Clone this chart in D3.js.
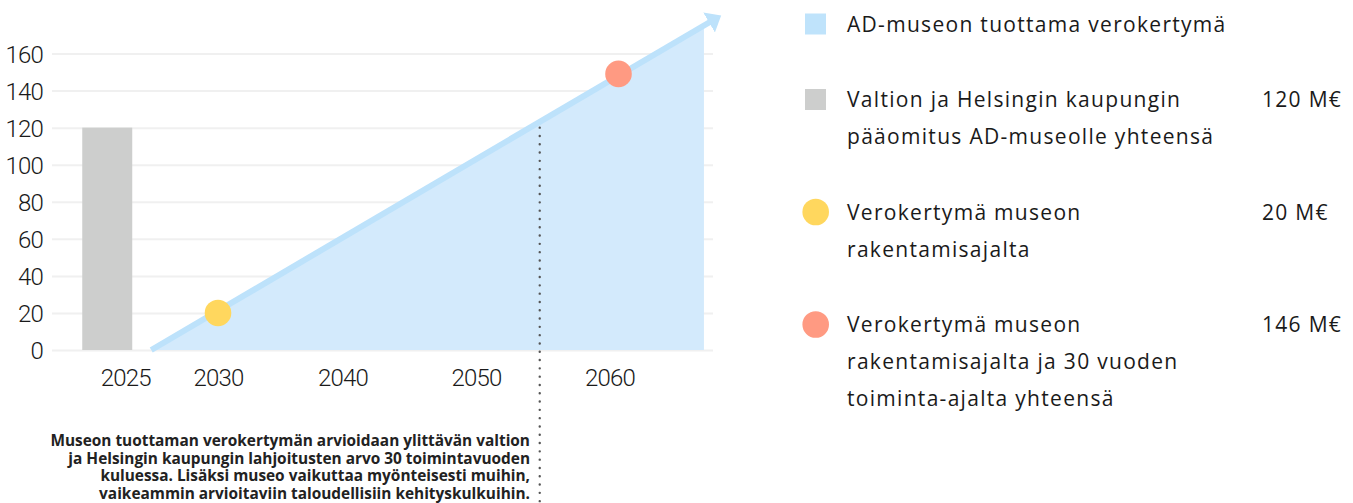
<!DOCTYPE html>
<html>
<head>
<meta charset="utf-8">
<script src="https://cdn.jsdelivr.net/npm/d3@7"></script>
<style>
  body { margin: 0; background: #fff; }
  svg { display: block; }
  .tick-label { font-family: "Roboto", sans-serif; font-weight: 300; font-size: 24px; fill: #1a1a1a; letter-spacing: -0.8px; }
  .legend text { font-family: "Open Sans", sans-serif; font-size: 21px; fill: #1a1a1a; letter-spacing: 1.3px; }
  .note { font-family: "Open Sans", sans-serif; font-size: 15.4px; font-weight: 700; fill: #222; }
</style>
</head>
<body>
<div id="chart"></div>
<script>

// axis ticks
var yTicks = [0, 20, 40, 60, 80, 100, 120, 140, 160];
var xTicks = [2025, 2030, 2040, 2050, 2060];

// state + city capital, one bar
var barYear = 2025;
var barValue = 120;

// tax accumulation (area + arrow line)
var areaYears = [2025, 2066.4];
var areaValues = [0, 175];
var lineYears = [2025, 2066.85];
var lineValues = [0, 177];

// milestones
var dotYears = [2030, 2060];
var dotValues = [20, 149];
var dotColors = ["#ffd75e", "#ff9a82"];

// where accumulation passes the capital
var crossYear = 2054.1;
var crossValue = 120;

var noteLines = [
	"Museon tuottaman verokertymän arvioidaan ylittävän valtion",
	"ja Helsingin kaupungin lahjoitusten arvo 30 toimintavuoden",
	"kuluessa. Lisäksi museo vaikuttaa myönteisesti muihin,",
	"vaikeammin arvioitaviin taloudellisiin kehityskulkuihin."
];

var legendLabels = [
	["AD-museon tuottama verokertymä"],
	["Valtion ja Helsingin kaupungin", "pääomitus AD-museolle yhteensä"],
	["Verokertymä museon", "rakentamisajalta"],
	["Verokertymä museon", "rakentamisajalta ja 30 vuoden", "toiminta-ajalta yhteensä"]
];
var legendValues = ["", "120 M€", "20 M€", "146 M€"];
var legendShapes = ["square", "square", "circle", "circle"];
var legendColors = ["#bfe3fb", "#cdcecd", "#ffd75e", "#ff9a82"];


var W = 1353, H = 503;

var svg = d3.select("#chart").append("svg")
	.attr("width", W)
	.attr("height", H);

var x = d3.scaleLinear()
	.domain([2030, 2060])
	.range([218, 618.5]);

var y = d3.scaleLinear()
	.domain([0, 160])
	.range([350, 53.5]);

var gridLeft = 52, gridRight = 713;

// gridlines + y labels
var yAxis = d3.axisLeft(y)
	.tickValues(yTicks)
	.tickSize(-(gridRight - gridLeft))
	.tickPadding(9);

var gy = svg.append("g")
	.attr("transform", "translate(" + gridLeft + ",0)")
	.call(yAxis);
gy.select(".domain").remove();
gy.selectAll(".tick line").attr("stroke", "#f0f0f0").attr("stroke-width", 2);
gy.selectAll(".tick text")
	.attr("class", "tick-label")
	.attr("dy", "0.36em")
	.attr("font-family", null).attr("font-size", null);

// bar
var barShift = -44, barWidth = 50;
svg.append("rect")
	.attr("x", x(barYear) + barShift - barWidth / 2)
	.attr("y", y(barValue))
	.attr("width", barWidth)
	.attr("height", y(0) - y(barValue))
	.attr("fill", "#cdcecd");

// area
var areaData = areaYears.map(function (d, i) { return { year: d, value: areaValues[i] }; });
var area = d3.area()
	.x(function (d) { return x(d.year); })
	.y0(y(0))
	.y1(function (d) { return y(d.value); });

svg.append("path")
	.datum(areaData)
	.attr("d", area)
	.attr("fill", "#d3eafc");

// arrow line
var defs = svg.append("defs");
defs.append("marker")
	.attr("id", "arrow")
	.attr("markerUnits", "userSpaceOnUse")
	.attr("viewBox", "0 -12 16 24")
	.attr("refX", 1)
	.attr("refY", 0)
	.attr("markerWidth", 16)
	.attr("markerHeight", 24)
	.attr("orient", "auto")
	.append("path")
	.attr("d", "M0,-11.5L14,0L0,11.5Z")
	.attr("fill", "#bde2fb");

var lineData = lineYears.map(function (d, i) { return { year: d, value: lineValues[i] }; });
var line = d3.line()
	.x(function (d) { return x(d.year); })
	.y(function (d) { return y(d.value); });

svg.append("path")
	.datum(lineData)
	.attr("d", line)
	.attr("fill", "none")
	.attr("stroke", "#bde2fb")
	.attr("stroke-width", 6)
	.attr("marker-end", "url(#arrow)");

// dotted annotation line
svg.append("line")
	.attr("x1", x(crossYear)).attr("x2", x(crossYear))
	.attr("y1", y(crossValue)).attr("y2", H)
	.attr("stroke", "#555")
	.attr("stroke-width", 2.4)
	.attr("stroke-linecap", "round")
	.attr("stroke-dasharray", "0,8.3");

// milestone dots
svg.selectAll("circle.dot")
	.data(dotYears)
	.enter().append("circle")
	.attr("class", "dot")
	.attr("cx", function (d) { return x(d); })
	.attr("cy", function (d, i) { return y(dotValues[i]); })
	.attr("r", 13.3)
	.attr("fill", function (d, i) { return dotColors[i]; });

// x labels (first one sits between bar and area, the decades a bit left)
var xAxis = d3.axisBottom(x)
	.tickValues(xTicks)
	.tickFormat(d3.format("d"))
	.tickSize(0);

var gx = svg.append("g")
	.call(xAxis);
gx.select(".domain").remove();
gx.selectAll(".tick text")
	.attr("class", "tick-label")
	.attr("font-family", null).attr("font-size", null)
	.attr("y", 385.5)
	.attr("dy", 0)
	.attr("dx", function (d) { return d === barYear ? -26 : (d === dotYears[0] ? 0 : -9); });

// note text
var note = svg.append("text")
	.attr("class", "note")
	.attr("text-anchor", "end");
note.selectAll("tspan")
	.data(noteLines)
	.enter().append("tspan")
	.attr("x", 530)
	.attr("y", function (d, i) { return 446 + i * 17.6; })
	.text(function (d) { return d; });

// legend
var legend = svg.append("g").attr("class", "legend");
var rowH = 37, itemGap = 75.5;
var base = 31.5;
legendLabels.forEach(function (lines, i) {
	var g = legend.append("g");
	var cy = base - 7.5;
	if (legendShapes[i] === "square") {
		g.append("rect")
			.attr("x", 805).attr("y", cy - 10.5)
			.attr("width", 21).attr("height", 21)
			.attr("fill", legendColors[i]);
	} else {
		g.append("circle")
			.attr("cx", 815.7).attr("cy", cy)
			.attr("r", 13.3)
			.attr("fill", legendColors[i]);
	}
	lines.forEach(function (t, j) {
		g.append("text")
			.attr("x", 847)
			.attr("y", base + j * rowH)
			.text(t);
	});
	if (legendValues[i]) {
		g.append("text")
			.attr("x", 1262)
			.attr("y", base)
			.text(legendValues[i]);
	}
	base += (lines.length - 1) * rowH + itemGap;
});

</script>
</body>
</html>
